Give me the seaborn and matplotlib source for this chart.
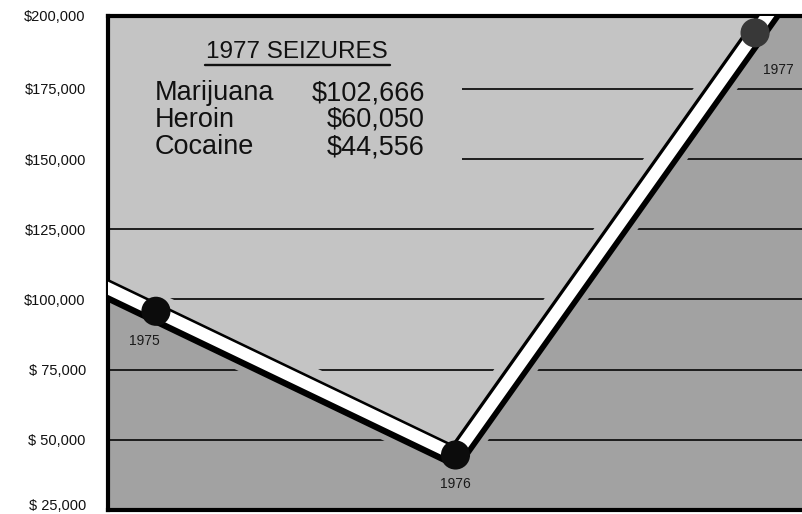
import numpy as np
import pandas as pd
import matplotlib
matplotlib.use("Agg")
import matplotlib.pyplot as plt
import matplotlib.patheffects as pe
import matplotlib.transforms as mtransforms
from matplotlib.patches import Rectangle
from matplotlib.lines import Line2D
import seaborn as sns

# ---------------- data ----------------
years = [1975, 1976, 1977]
values = [95800, 44600, 195000]
year_labels = ["1975", "1976", "1977"]
ytick_values = [25000, 50000, 75000, 100000, 125000, 150000, 175000, 200000]
ytick_labels = ["$ 25,000", "$ 50,000", "$ 75,000", "$100,000",
                "$125,000", "$150,000", "$175,000", "$200,000"]
gridline_values = [50000, 75000, 100000, 125000, 150000, 175000]
table_title = "1977 SEIZURES"
drugs = ["Marijuana", "Heroin", "Cocaine"]
drug_amounts = ["$102,666", "$60,050", "$44,556"]

# ---------------- style ----------------
W, H = 803, 514
LIGHT = "#c4c4c4"
DARK = "#a2a2a2"
INK = "#111111"

sns.set_theme(style="white")
plt.rcParams["font.family"] = ["Liberation Sans", "DejaVu Sans"]

fig = plt.figure(figsize=(W / 100, H / 100), dpi=100)
fig.patch.set_facecolor("white")
ax = fig.add_axes([108 / W, (H - 510) / H, 1 - 108 / W, (510 - 16) / H])

XLIM = (1974.84, 1977.16)
YLIM = (25000, 201000)
ax.set_xlim(*XLIM)
ax.set_ylim(*YLIM)

# extend the line beyond the first/last point by linear extrapolation
xs = np.array(years, dtype=float)
vs = np.array(values, dtype=float)
xl, xr = XLIM[0] - 0.3, XLIM[1] + 0.3
slope_l = (vs[1] - vs[0]) / (xs[1] - xs[0])
slope_r = (vs[-1] - vs[-2]) / (xs[-1] - xs[-2])
x_ext = np.concatenate([[xl], xs, [xr]])
y_ext = np.concatenate([[vs[0] + slope_l * (xl - xs[0])], vs,
                        [vs[-1] + slope_r * (xr - xs[-1])]])

# background regions above / below the line
upper = ax.fill_between(x_ext, y_ext, YLIM[1] + 200000, color=LIGHT, lw=0, zorder=0.5)
lower = ax.fill_between(x_ext, YLIM[0] - 200000, y_ext, color=DARK, lw=0, zorder=0.5)

# gridlines
ax.hlines(gridline_values, XLIM[0], XLIM[1], colors=INK, lw=1.3, zorder=1)

# blank area behind the table
ax.add_patch(Rectangle((0, 0.62), (462 - 108) / (W - 108), 0.30,
                       transform=ax.transAxes, color=LIGHT, lw=0, zorder=1.5))

# halo (gap in the gridlines around the line), in the colour of each region
for poly, col in [(upper, LIGHT), (lower, DARK)]:
    h, = ax.plot(x_ext, y_ext, color=col, lw=26, solid_joinstyle="round",
                 solid_capstyle="butt", zorder=2)
    h.set_clip_path(poly.get_paths()[0], ax.transData)

# main white line with black shadow edge
df_line = pd.DataFrame({"x": x_ext, "y": y_ext})
sns.lineplot(data=df_line, x="x", y="y", ax=ax, color="white", lw=8.6,
             sort=False, estimator=None, zorder=3,
             solid_joinstyle="round",
             path_effects=[pe.Stroke(linewidth=15, foreground="black", offset=(0, -1.5)),
                           pe.Normal()])

# points
df_pts = pd.DataFrame({"year": years, "value": values, "label": year_labels})
pal = {"1975": "#0c0c0c", "1976": "#0c0c0c", "1977": "#383838"}
sns.scatterplot(data=df_pts, x="year", y="value", hue="label", palette=pal,
                s=440, edgecolor="none", linewidth=0, legend=False, ax=ax, zorder=4)

# year labels
offsets = [(-8, -21.5), (0, -21), (16.5, -26.5)]
for yr, val, lab, off in zip(years, values, year_labels, offsets):
    ax.annotate(lab, (yr, val), xytext=off, textcoords="offset points",
                ha="center", va="center", fontsize=10, color="#1a1a1a", zorder=5)

# axes styling
for side in ["left", "top", "bottom"]:
    ax.spines[side].set_visible(True)
    ax.spines[side].set_color("black")
    ax.spines[side].set_linewidth(3.0)
ax.spines["right"].set_visible(False)
ax.set_xticks([])
ax.set_yticks(ytick_values, ytick_labels)
ax.tick_params(axis="y", length=0, pad=16, labelsize=10.5, labelcolor=INK)
ax.set_xlabel("")
ax.set_ylabel("")
ax.grid(False)

# lift the bottom / top tick labels a little, as in the original
ylabels = ax.get_yticklabels()
ylabels[0].set_transform(ylabels[0].get_transform()
                         + mtransforms.ScaledTranslation(0, 6 / 100, fig.dpi_scale_trans))
ylabels[-1].set_transform(ylabels[-1].get_transform()
                          + mtransforms.ScaledTranslation(0, 3 / 100, fig.dpi_scale_trans))

# table
def fx(x):
    return x / W

def fy(y):
    return 1 - y / H

fig.text(fx(297), fy(58), table_title, ha="center", va="baseline",
         fontsize=17.5, color=INK)
fig.add_artist(Line2D([fx(205), fx(390)], [fy(65), fy(65)], color=INK, lw=1.7))
baselines = [100, 127, 154]
for name, amt, b in zip(drugs, drug_amounts, baselines):
    fig.text(fx(155), fy(b), name, ha="left", va="baseline", fontsize=19.5, color=INK)
    fig.text(fx(425), fy(b), amt, ha="right", va="baseline", fontsize=19.5, color=INK)

fig.savefig("out.png", dpi=100)
